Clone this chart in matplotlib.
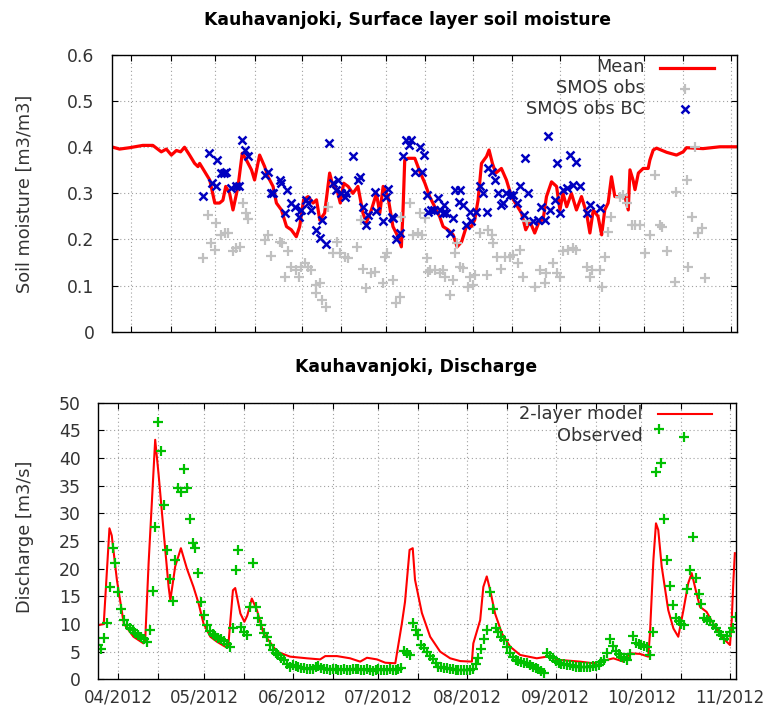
import numpy as np
import matplotlib
matplotlib.use('Agg')
import matplotlib.pyplot as plt
import matplotlib.dates as mdates
from matplotlib.ticker import MultipleLocator, FuncFormatter

# days counted from 2012-04-01
start = np.datetime64('2012-04-01')

# --- surface layer soil moisture ---
mean_day = [-7.1, -4.2, -0.6, 4.1, 7.7, 10.7, 12.5, 14.3, 16.1, 17.6, 19.0, 20.8, 22.6, 23.8, 24.4,
            26.2, 28.0, 29.8, 31.5, 32.7, 33.7, 35.1, 36.3, 38.1, 39.6, 41.1, 42.9, 44.0, 45.8, 47.6,
            48.8, 50.6, 51.8, 53.6, 55.4, 57.1, 58.9, 60.1, 61.5, 63.1, 64.9, 66.1, 67.3, 69.0, 70.8,
            72.0, 73.4, 74.6, 75.8, 77.4, 79.1, 80.9, 82.7, 83.9, 85.7, 87.5, 88.7, 89.9, 91.6, 93.4,
            95.2, 96.4, 97.0, 97.6, 98.8, 101.2, 103.0, 104.8, 106.5, 108.3, 110.1, 111.3, 113.1, 114.9,
            116.3, 117.9, 119.6, 121.4, 122.6, 123.8, 125.0, 126.8, 127.7, 128.9, 130.1, 132.1, 133.9,
            135.7, 137.5, 139.3, 140.8, 142.3, 144.0, 145.6, 147.0, 148.2, 150.0, 151.8, 153.0, 154.1,
            155.4, 157.1, 158.9, 160.7, 162.5, 163.7, 164.9, 166.6, 167.9, 169.0, 170.2, 171.4, 172.6,
            174.4, 176.2, 177.4, 178.0, 179.1, 179.8, 181.0, 182.7, 184.5, 185.1, 186.3, 187.5, 191.1,
            194.6, 197.0, 198.2, 204.1, 210.1, 216.1]
mean_sm = [0.401, 0.396, 0.399, 0.404, 0.404, 0.390, 0.396, 0.383, 0.393, 0.390, 0.400, 0.383, 0.365,
           0.358, 0.365, 0.347, 0.329, 0.279, 0.279, 0.285, 0.315, 0.300, 0.264, 0.315, 0.387, 0.372,
           0.351, 0.329, 0.383, 0.358, 0.336, 0.315, 0.279, 0.264, 0.228, 0.221, 0.206, 0.228, 0.286,
           0.293, 0.279, 0.286, 0.242, 0.257, 0.344, 0.315, 0.308, 0.279, 0.322, 0.315, 0.300, 0.315,
           0.257, 0.236, 0.264, 0.300, 0.257, 0.315, 0.293, 0.228, 0.206, 0.184, 0.264, 0.372, 0.376,
           0.376, 0.347, 0.322, 0.293, 0.271, 0.249, 0.228, 0.221, 0.210, 0.184, 0.195, 0.228, 0.228,
           0.243, 0.286, 0.365, 0.380, 0.394, 0.365, 0.344, 0.354, 0.329, 0.293, 0.275, 0.257, 0.221,
           0.239, 0.214, 0.239, 0.243, 0.293, 0.325, 0.315, 0.264, 0.300, 0.271, 0.300, 0.264, 0.293,
           0.257, 0.214, 0.264, 0.250, 0.210, 0.264, 0.279, 0.336, 0.293, 0.293, 0.293, 0.264, 0.351,
           0.329, 0.308, 0.344, 0.354, 0.354, 0.372, 0.394, 0.398, 0.389, 0.383, 0.390, 0.399, 0.397,
           0.401, 0.401]

smos_day = [25.6, 27.4, 28.6, 29.8, 30.4, 32.1, 33.3, 34.5, 36.3, 37.5, 38.7, 39.9, 41.1, 41.6, 47.6,
            48.8, 50.0, 53.0, 53.9, 54.8, 55.9, 57.1, 58.9, 59.9, 60.7, 61.9, 63.1, 64.3, 66.1, 65.8,
            67.9, 69.6, 67.3, 70.2, 72.0, 73.4, 74.4, 76.2, 77.4, 80.4, 82.1, 82.7, 83.9, 85.7, 86.9,
            89.9, 91.1, 90.5, 93.4, 94.6, 95.8, 96.4, 99.4, 100.6, 102.4, 103.0, 103.9, 104.8, 105.4,
            105.9, 106.5, 108.3, 110.1, 111.3, 111.9, 113.7, 114.9, 115.5, 116.1, 117.3, 118.4, 120.2,
            120.8, 122.0, 122.6, 124.4, 126.8, 127.4, 128.6, 129.1, 130.4, 132.1, 133.3, 135.1, 136.3,
            138.1, 138.7, 139.9, 141.1, 144.0, 145.8, 147.6, 148.2, 150.6, 151.8, 153.0, 154.1, 155.9,
            157.7, 158.9, 162.5, 163.7, 164.3, 167.3, 167.9, 169.0, 170.2, 171.4, 174.4, 175.6, 176.8,
            178.6, 179.8, 181.5, 183.3, 185.1, 186.9, 188.7, 189.3, 191.1, 194.1, 194.6, 198.2, 198.8,
            200.0, 201.2, 202.4, 203.6, 204.8]
smos_sm = [0.159, 0.252, 0.192, 0.177, 0.236, 0.210, 0.213, 0.213, 0.174, 0.181, 0.183, 0.279, 0.257,
           0.244, 0.199, 0.210, 0.164, 0.195, 0.192, 0.119, 0.174, 0.141, 0.134, 0.119, 0.141, 0.148,
           0.141, 0.134, 0.101, 0.083, 0.069, 0.054, 0.106, 0.271, 0.170, 0.195, 0.170, 0.163, 0.159,
           0.184, 0.242, 0.137, 0.094, 0.127, 0.129, 0.105, 0.170, 0.163, 0.112, 0.062, 0.076, 0.249,
           0.279, 0.210, 0.213, 0.257, 0.210, 0.246, 0.159, 0.130, 0.134, 0.134, 0.127, 0.134, 0.119,
           0.080, 0.112, 0.170, 0.192, 0.141, 0.139, 0.098, 0.119, 0.101, 0.123, 0.213, 0.123, 0.221,
           0.210, 0.192, 0.163, 0.137, 0.163, 0.163, 0.166, 0.148, 0.177, 0.119, 0.239, 0.098, 0.134,
           0.105, 0.127, 0.148, 0.127, 0.119, 0.174, 0.177, 0.181, 0.177, 0.141, 0.119, 0.134, 0.134,
           0.098, 0.163, 0.217, 0.249, 0.293, 0.297, 0.279, 0.231, 0.231, 0.231, 0.170, 0.210, 0.340,
           0.231, 0.228, 0.174, 0.108, 0.304, 0.329, 0.141, 0.249, 0.401, 0.213, 0.224, 0.116]

bc_day = [25.6, 27.7, 28.9, 30.1, 30.6, 32.1, 33.0, 33.9, 35.7, 37.5, 38.4, 39.6, 40.5, 41.6, 47.6,
          48.8, 50.0, 50.6, 53.0, 53.6, 54.8, 55.4, 57.1, 58.3, 59.9, 60.7, 62.5, 63.1, 64.3, 66.1,
          67.3, 67.9, 69.6, 70.6, 72.0, 73.2, 73.8, 75.0, 76.2, 76.8, 79.1, 80.9, 81.5, 82.7, 83.7,
          84.5, 86.9, 87.5, 89.9, 90.8, 91.6, 92.9, 93.4, 94.6, 95.8, 97.0, 98.2, 99.0, 100.0, 101.2,
          103.0, 103.6, 104.4, 105.6, 105.9, 107.1, 108.2, 109.5, 110.1, 111.1, 111.5, 112.5, 113.7,
          114.9, 115.5, 117.0, 117.3, 118.4, 119.6, 120.8, 121.4, 123.2, 124.4, 125.6, 126.8, 127.4,
          128.6, 129.8, 130.9, 132.1, 132.7, 133.9, 135.1, 136.3, 137.5, 138.7, 140.1, 140.5, 141.6,
          143.4, 145.2, 146.1, 147.6, 148.8, 149.4, 151.2, 151.8, 153.0, 154.1, 155.4, 156.5, 157.7,
          158.9, 160.1, 162.5, 163.7, 167.3]
bc_sm = [0.294, 0.387, 0.322, 0.315, 0.372, 0.344, 0.344, 0.347, 0.311, 0.316, 0.315, 0.416, 0.394,
         0.380, 0.340, 0.347, 0.300, 0.300, 0.329, 0.322, 0.257, 0.307, 0.279, 0.271, 0.249, 0.264,
         0.286, 0.279, 0.264, 0.221, 0.203, 0.242, 0.190, 0.409, 0.322, 0.307, 0.329, 0.300, 0.293,
         0.300, 0.380, 0.329, 0.336, 0.271, 0.231, 0.253, 0.304, 0.262, 0.239, 0.293, 0.309, 0.249,
         0.247, 0.200, 0.213, 0.380, 0.416, 0.404, 0.416, 0.347, 0.401, 0.347, 0.383, 0.297, 0.260,
         0.264, 0.264, 0.289, 0.264, 0.257, 0.275, 0.258, 0.213, 0.246, 0.307, 0.282, 0.307, 0.275,
         0.231, 0.260, 0.239, 0.260, 0.315, 0.300, 0.260, 0.354, 0.347, 0.329, 0.300, 0.275, 0.279,
         0.300, 0.297, 0.297, 0.279, 0.315, 0.253, 0.376, 0.300, 0.239, 0.242, 0.271, 0.242, 0.424,
         0.264, 0.286, 0.365, 0.257, 0.307, 0.311, 0.383, 0.318, 0.369, 0.315, 0.257, 0.275, 0.268]

# --- discharge ---
model_day = [-6.9, -5.1, -3.1, -2.3, -0.5, 1.9, 5.3, 8.8, 9.4, 10.6, 12.9, 14.1, 15.8, 17.6, 18.2,
             19.9, 21.9, 24.0, 26.3, 28.1, 29.8, 32.2, 34.5, 37.4, 38.5, 40.1, 40.9, 42.7, 44.1, 45.1,
             46.7, 48.5, 50.8, 55.5, 60.1, 66.0, 70.6, 72.4, 76.5, 81.1, 84.6, 87.0, 90.5, 93.4, 96.9,
             99.2, 100.3, 101.9, 103.0, 103.8, 106.2, 109.1, 112.6, 116.1, 119.6, 123.7, 124.2, 126.6,
             127.7, 128.9, 130.1, 131.8, 134.2, 137.1, 140.6, 146.4, 149.9, 154.5, 161.5, 166.2, 170.9,
             173.2, 176.7, 179.0, 182.5, 185.4, 186.0, 187.2, 188.1, 188.9, 190.1, 192.4, 194.2, 195.9,
             197.7, 199.4, 200.6, 202.3, 203.5, 205.8, 208.1, 211.1, 214.0, 214.6, 215.2, 215.7]
model_q = [9.8, 10.0, 27.3, 26.0, 18.0, 10.1, 7.7, 6.5, 7.0, 21.0, 43.3, 37.0, 27.0, 16.7, 14.3,
           20.4, 23.7, 20.0, 16.7, 13.7, 10.1, 7.7, 6.8, 5.9, 6.2, 16.1, 16.5, 11.9, 10.4, 11.5,
           14.6, 12.5, 8.3, 5.0, 4.1, 3.8, 3.6, 4.2, 4.2, 3.8, 3.2, 3.9, 3.6, 3.0, 2.9,
           10.1, 14.0, 23.4, 23.7, 18.0, 12.0, 7.7, 5.0, 3.8, 3.3, 3.2, 6.5, 10.7,
           16.7, 18.6, 16.1, 11.9, 8.3, 5.9, 4.4, 3.8, 4.1, 3.5, 3.2, 2.9, 3.5,
           3.8, 3.2, 4.7, 4.6, 4.1, 8.3, 21.6, 28.2, 27.0, 20.4, 12.5, 9.2, 7.7,
           12.5, 17.4, 19.2, 15.5, 13.1, 12.2, 10.1, 7.7, 6.2, 10.7, 18.0, 22.8]

# observed discharge, one value per day from 2012-03-25
obs_first_day = -7
obs_q = [6.2, 5.5, 7.4, 10.2, 16.7, 23.7, 21.1, 15.7, 12.8, 10.7,
         9.9, 9.3, 8.9, 8.4, 8.0, 7.6, 7.3, 6.8, 8.9, 16.0,
         27.6, 46.6, 41.3, 31.5, 23.3, 18.1, 14.2, 21.6, 34.5, 33.9,
         38.0, 34.5, 28.9, 24.7, 23.7, 19.3, 13.9, 11.6, 9.9, 8.7,
         8.2, 7.8, 7.5, 7.3, 7.0, 6.3, 5.9, 9.2, 19.8, 23.3,
         9.4, 8.5, 8.0, 13.1, 21.0, 13.1, 11.0, 9.8, 8.3, 7.6,
         6.2, 5.3, 4.8, 4.4, 3.9, 3.5, 2.8, 2.3, 2.6, 2.4,
         2.3, 2.1, 2.0, 1.9, 1.8, 1.9, 2.2, 2.4, 2.1, 1.9,
         1.8, 1.7, 1.8, 1.9, 1.7, 1.6, 1.8, 1.7, 1.6, 1.8,
         1.9, 1.8, 1.6, 1.7, 1.8, 1.6, 1.5, 1.6, 1.8, 1.7,
         1.6, 1.7, 1.8, 1.6, 1.7, 1.9, 2.0, 5.2, 4.8, 4.4,
         10.2, 9.0, 8.0, 6.2, 5.6, 5.0, 4.2, 3.6, 3.0, 2.3,
         2.2, 2.1, 2.0, 1.9, 1.8, 1.7, 1.7, 1.6, 1.6, 1.7,
         1.7, 1.8, 2.8, 3.8, 5.4, 7.2, 9.0, 15.7, 12.7, 9.2,
         8.5, 7.6, 7.1, 5.9, 4.8, 4.1, 3.5, 3.4, 3.2, 3.0,
         2.9, 2.6, 2.3, 2.0, 1.8, 1.5, 1.2, 4.7, 4.2, 3.8,
         3.3, 2.9, 2.8, 2.7, 2.6, 2.5, 2.4, 2.3, 2.3, 2.2,
         2.3, 2.3, 2.2, 2.4, 2.4, 2.6, 3.2, 3.5, 4.7, 7.2,
         6.0, 5.2, 4.6, 4.1, 3.8, 3.5, 4.5, 7.8, 6.5, 6.3,
         6.2, 6.0, 5.9, 4.4, 8.6, 37.5, 45.2, 39.1, 28.9, 21.6,
         16.9, 13.4, 11.0, 10.5, 10.0, 9.8, 16.3, 19.8, 25.8, 18.3,
         15.5, 13.7, 11.0, 10.7, 10.5, 9.8, 9.2, 8.5, 8.0, 7.2,
         7.8, 8.5, 9.2, 11.2]

x_range = (-7.0, 216.1)


def to_num(days):
    return mdates.date2num(start) + np.asarray(days, dtype=float)


text_col = '#333333'
plt.rcParams['font.family'] = 'DejaVu Sans'
plt.rcParams['font.size'] = 12.4

fig = plt.figure(figsize=(7.65, 7.08), dpi=100)
ax1 = fig.add_axes([0.146, 0.5315, 0.817, 0.3908])
ax2 = fig.add_axes([0.1285, 0.0405, 0.8336, 0.3907])


def style_axis(ax, show_dates):
    ax.set_xlim(to_num(x_range[0]), to_num(x_range[1]))
    ax.xaxis.set_major_locator(mdates.MonthLocator())
    ax.xaxis.set_minor_locator(mdates.MonthLocator(bymonthday=15))
    ax.xaxis.set_major_formatter(mdates.DateFormatter('%m/%Y'))
    ax.tick_params(which='both', direction='in', top=True, right=True,
                   length=4, width=0.8, colors='black', labelcolor=text_col)
    ax.tick_params(axis='y', pad=12.5)
    ax.tick_params(axis='x', pad=6.5, labelsize=12)
    if not show_dates:
        ax.tick_params(axis='x', labelbottom=False)
    ax.grid(True, which='both', axis='x', color='#a0a0a0', linestyle=(0, (1, 2.5)), linewidth=0.8)
    ax.grid(True, which='major', axis='y', color='#a0a0a0', linestyle=(0, (1, 2.5)), linewidth=0.8)
    ax.set_axisbelow(True)
    for s in ax.spines.values():
        s.set_linewidth(1.0)
        s.set_color('black')


# soil moisture panel
ax1.plot(to_num(mean_day), mean_sm, color='#ff0000', linewidth=2.3)
ax1.plot(to_num(smos_day), smos_sm, linestyle='none', marker='+', markersize=7,
         markeredgewidth=1.6, color='#c0c0c0')
ax1.plot(to_num(bc_day), bc_sm, linestyle='none', marker='x', markersize=6,
         markeredgewidth=1.8, color='#0000c0')
ax1.set_ylim(0, 0.6)
ax1.yaxis.set_major_locator(MultipleLocator(0.1))
ax1.yaxis.set_major_formatter(FuncFormatter(lambda v, p: '%g' % round(v, 2)))
style_axis(ax1, False)

# discharge panel
obs_day = np.arange(obs_first_day, obs_first_day + len(obs_q))
ax2.plot(to_num(model_day), model_q, color='#ff0000', linewidth=1.5)
ax2.plot(to_num(obs_day), obs_q, linestyle='none', marker='+', markersize=7,
         markeredgewidth=1.6, color='#00c000')
ax2.set_ylim(0, 50)
ax2.yaxis.set_major_locator(MultipleLocator(5))
style_axis(ax2, True)

# gnuplot style keys, text right aligned, sample at the right
tx = 0.853
for ax, rows in [
    (ax1, [('Mean', 0.940, 0.954, dict(color='#ff0000', linewidth=2.3)),
           ('SMOS obs', 0.862, 0.877, dict(linestyle='none', marker='+', markersize=7,
                                           markeredgewidth=1.6, color='#c0c0c0')),
           ('SMOS obs BC', 0.787, 0.805, dict(linestyle='none', marker='x', markersize=6,
                                              markeredgewidth=1.8, color='#0000c0'))]),
    (ax2, [('2-layer model', 0.940, 0.958, dict(color='#ff0000', linewidth=1.5)),
           ('Observed', 0.862, 0.877, dict(linestyle='none', marker='+', markersize=7,
                                           markeredgewidth=1.6, color='#00c000'))]),
]:
    for label, y_text, y_mark, kw in rows:
        ax.text(tx, y_text, label, ha='right', va='baseline', color=text_col,
                transform=ax.transAxes, fontsize=12.8)
        if kw.get('linestyle') == 'none':
            ax.plot([0.918], [y_mark], transform=ax.transAxes, clip_on=False, **kw)
        else:
            ax.plot([0.877, 0.963], [y_mark, y_mark], transform=ax.transAxes,
                    clip_on=False, **kw)

fig.text(0.533, 0.9718, 'Kauhavanjoki, Surface layer soil moisture', ha='center', va='center',
         fontsize=12.4, fontweight='bold', color='black')
fig.text(0.5445, 0.4816, 'Kauhavanjoki, Discharge', ha='center', va='center',
         fontsize=12.4, fontweight='bold', color='black')
fig.text(0.0327, 0.726, 'Soil moisture [m3/m3]', rotation=90, ha='center', va='center',
         color=text_col, fontsize=12.8)
fig.text(0.0327, 0.242, 'Discharge [m3/s]', rotation=90, ha='center', va='center',
         color=text_col, fontsize=12.8)

fig.savefig('out.png', dpi=100)
